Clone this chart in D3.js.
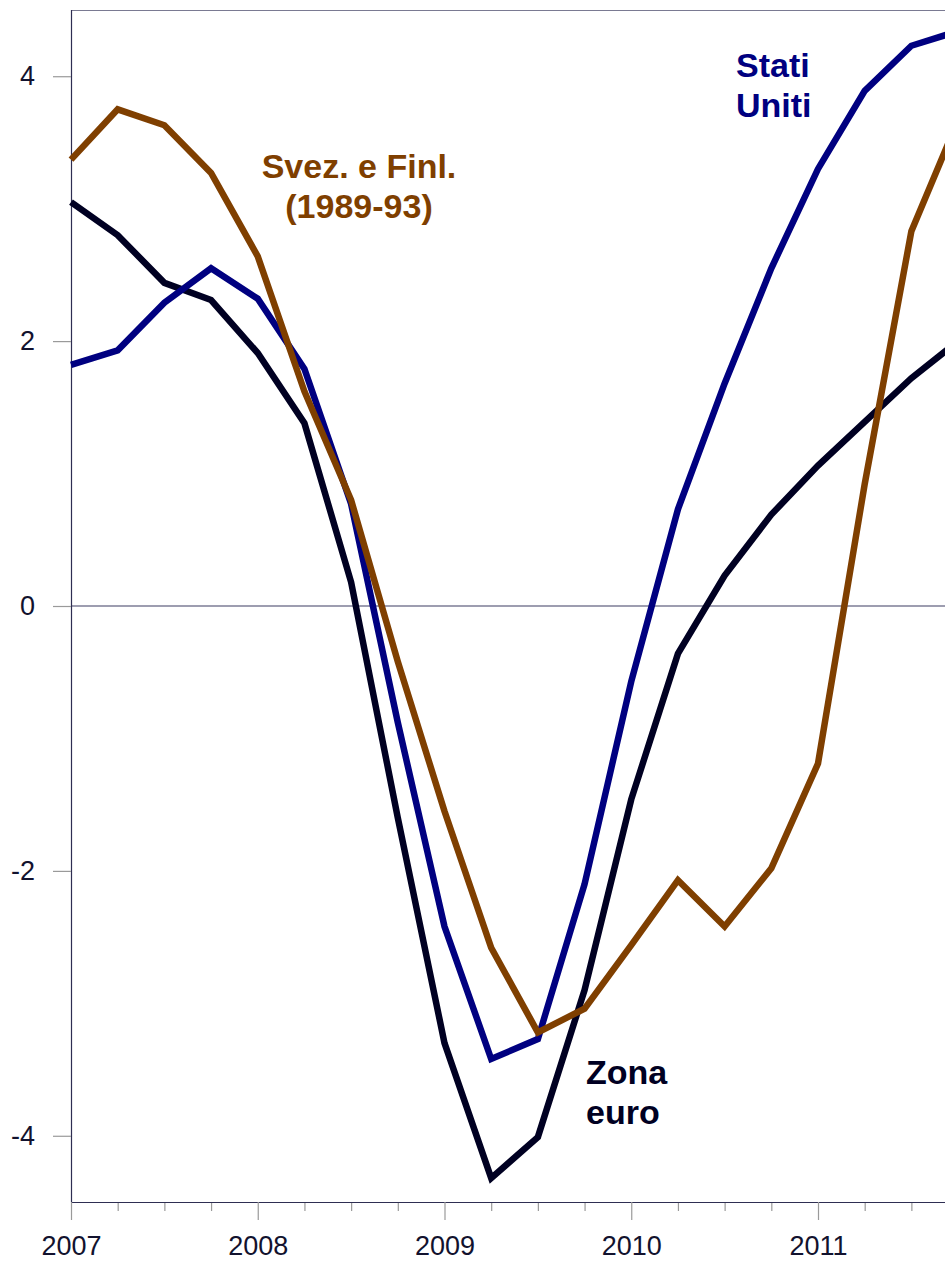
<!DOCTYPE html>
<html>
<head>
<meta charset="utf-8">
<script src="https://cdn.jsdelivr.net/npm/d3@7"></script>
<style>
  html, body { margin: 0; padding: 0; background: #fff; }
  svg { display: block; }
  text { font-family: "Liberation Sans", Arial, Helvetica, sans-serif; }
</style>
</head>
<body>
<svg id="chart" width="945" height="1261"></svg>
<script>
// Quarterly periods (year fraction)
const quarters = [2007.0, 2007.25, 2007.5, 2007.75, 2008.0, 2008.25, 2008.5, 2008.75,
                  2009.0, 2009.25, 2009.5, 2009.75, 2010.0, 2010.25, 2010.5, 2010.75,
                  2011.0, 2011.25, 2011.5, 2011.75];

const zonaEuro = [3.05, 2.80, 2.44, 2.31, 1.91, 1.38, 0.18, -1.60,
                  -3.30, -4.32, -4.01, -2.90, -1.46, -0.36, 0.23, 0.69,
                  1.06, 1.39, 1.72, 2.00];

const statiUniti = [1.82, 1.93, 2.29, 2.55, 2.32, 1.79, 0.77, -0.88,
                    -2.42, -3.42, -3.27, -2.10, -0.57, 0.73, 1.68, 2.55,
                    3.30, 3.89, 4.23, 4.34];

const svezFinl = [3.37, 3.75, 3.63, 3.27, 2.64, 1.62, 0.80, -0.42,
                  -1.55, -2.58, -3.22, -3.04, -2.56, -2.07, -2.42, -1.98,
                  -1.19, 0.92, 2.83, 3.67];

const yearTicks = [2007, 2008, 2009, 2010, 2011];
const yTicks = [-4, -2, 0, 2, 4];

const seriesList = [
  { name: "Zona euro", values: zonaEuro, color: "#000022",
    label: ["Zona", "euro"], lx: 586, ly: 1084, anchor: "start" },
  { name: "Stati Uniti", values: statiUniti, color: "#000080",
    label: ["Stati", "Uniti"], lx: 736, ly: 77, anchor: "start" },
  { name: "Svez. e Finl. (1989-93)", values: svezFinl, color: "#7f3f00",
    label: ["Svez. e Finl.", "(1989-93)"], lx: 359, ly: 178, anchor: "middle" }
];

(function () {
const svg = d3.select("#chart");
const mLeft = 71, mTop = 10, mBottom = 1202;
const x = d3.scaleLinear().domain([2007, 2012]).range([mLeft, mLeft + 5 * 186.75]);
const y = d3.scaleLinear().domain([-4.5, 4.5]).range([mBottom, mTop]);

const textColor = "#12122e";
const tickColor = "#9a9a9a";
const fontFam = "'Liberation Sans', Arial, sans-serif";

// top frame line
svg.append("line")
  .attr("x1", mLeft).attr("x2", 945).attr("y1", mTop + 0.5).attr("y2", mTop + 0.5)
  .attr("stroke", "#7a7a92").attr("stroke-width", 1.2);

// zero line
svg.append("line")
  .attr("x1", mLeft).attr("x2", 945).attr("y1", y(0)).attr("y2", y(0))
  .attr("stroke", "#3c3c62").attr("stroke-width", 1.2);

// Y axis
const yAxis = d3.axisLeft(y).tickValues(yTicks).tickSize(18).tickPadding(18)
  .tickFormat(d => String(d));
const gy = svg.append("g").attr("transform", `translate(${mLeft},0)`).call(yAxis);
gy.select(".domain").attr("stroke", "#2e2e52").attr("stroke-width", 1.2)
  .attr("d", `M0.5,${mTop}V${mBottom}`);
gy.selectAll(".tick line").attr("stroke", tickColor).attr("stroke-width", 1.2);
gy.selectAll(".tick text").attr("fill", textColor).attr("font-size", 27)
  .attr("font-family", fontFam);

// X axis minor ticks (quarters)
const xMinor = d3.axisBottom(x).tickValues(quarters.filter(q => q % 1 !== 0))
  .tickSize(9).tickFormat("");
const gxm = svg.append("g").attr("transform", `translate(0,${mBottom})`).call(xMinor);
gxm.select(".domain").remove();
gxm.selectAll(".tick line").attr("stroke", tickColor).attr("stroke-width", 1.2);

// X axis major ticks (years)
const xAxis = d3.axisBottom(x).tickValues(yearTicks).tickSize(18).tickPadding(16)
  .tickFormat(d => String(d));
const gx = svg.append("g").attr("transform", `translate(0,${mBottom})`).call(xAxis);
gx.select(".domain").attr("stroke", "#2e2e52").attr("stroke-width", 1.2)
  .attr("d", `M${mLeft},0.5H945`);
gx.selectAll(".tick line").attr("stroke", tickColor).attr("stroke-width", 1.2);
gx.selectAll(".tick text").attr("fill", textColor).attr("font-size", 27)
  .attr("font-family", fontFam);

// Lines
const line = d3.line().x((d, i) => x(quarters[i])).y(d => y(d));
seriesList.forEach(s => {
  svg.append("path")
    .datum(s.values)
    .attr("d", line)
    .attr("fill", "none")
    .attr("stroke", s.color)
    .attr("stroke-width", 6.5)
    .attr("stroke-linejoin", "miter");
});

// Labels
seriesList.forEach(s => {
  const t = svg.append("text")
    .attr("x", s.lx).attr("y", s.ly)
    .attr("fill", s.color)
    .attr("font-size", 34)
    .attr("font-weight", "bold")
    .attr("text-anchor", s.anchor);
  s.label.forEach((ln, i) => {
    t.append("tspan").attr("x", s.lx).attr("dy", i === 0 ? 0 : 40).text(ln);
  });
});
})();
</script>
</body>
</html>
